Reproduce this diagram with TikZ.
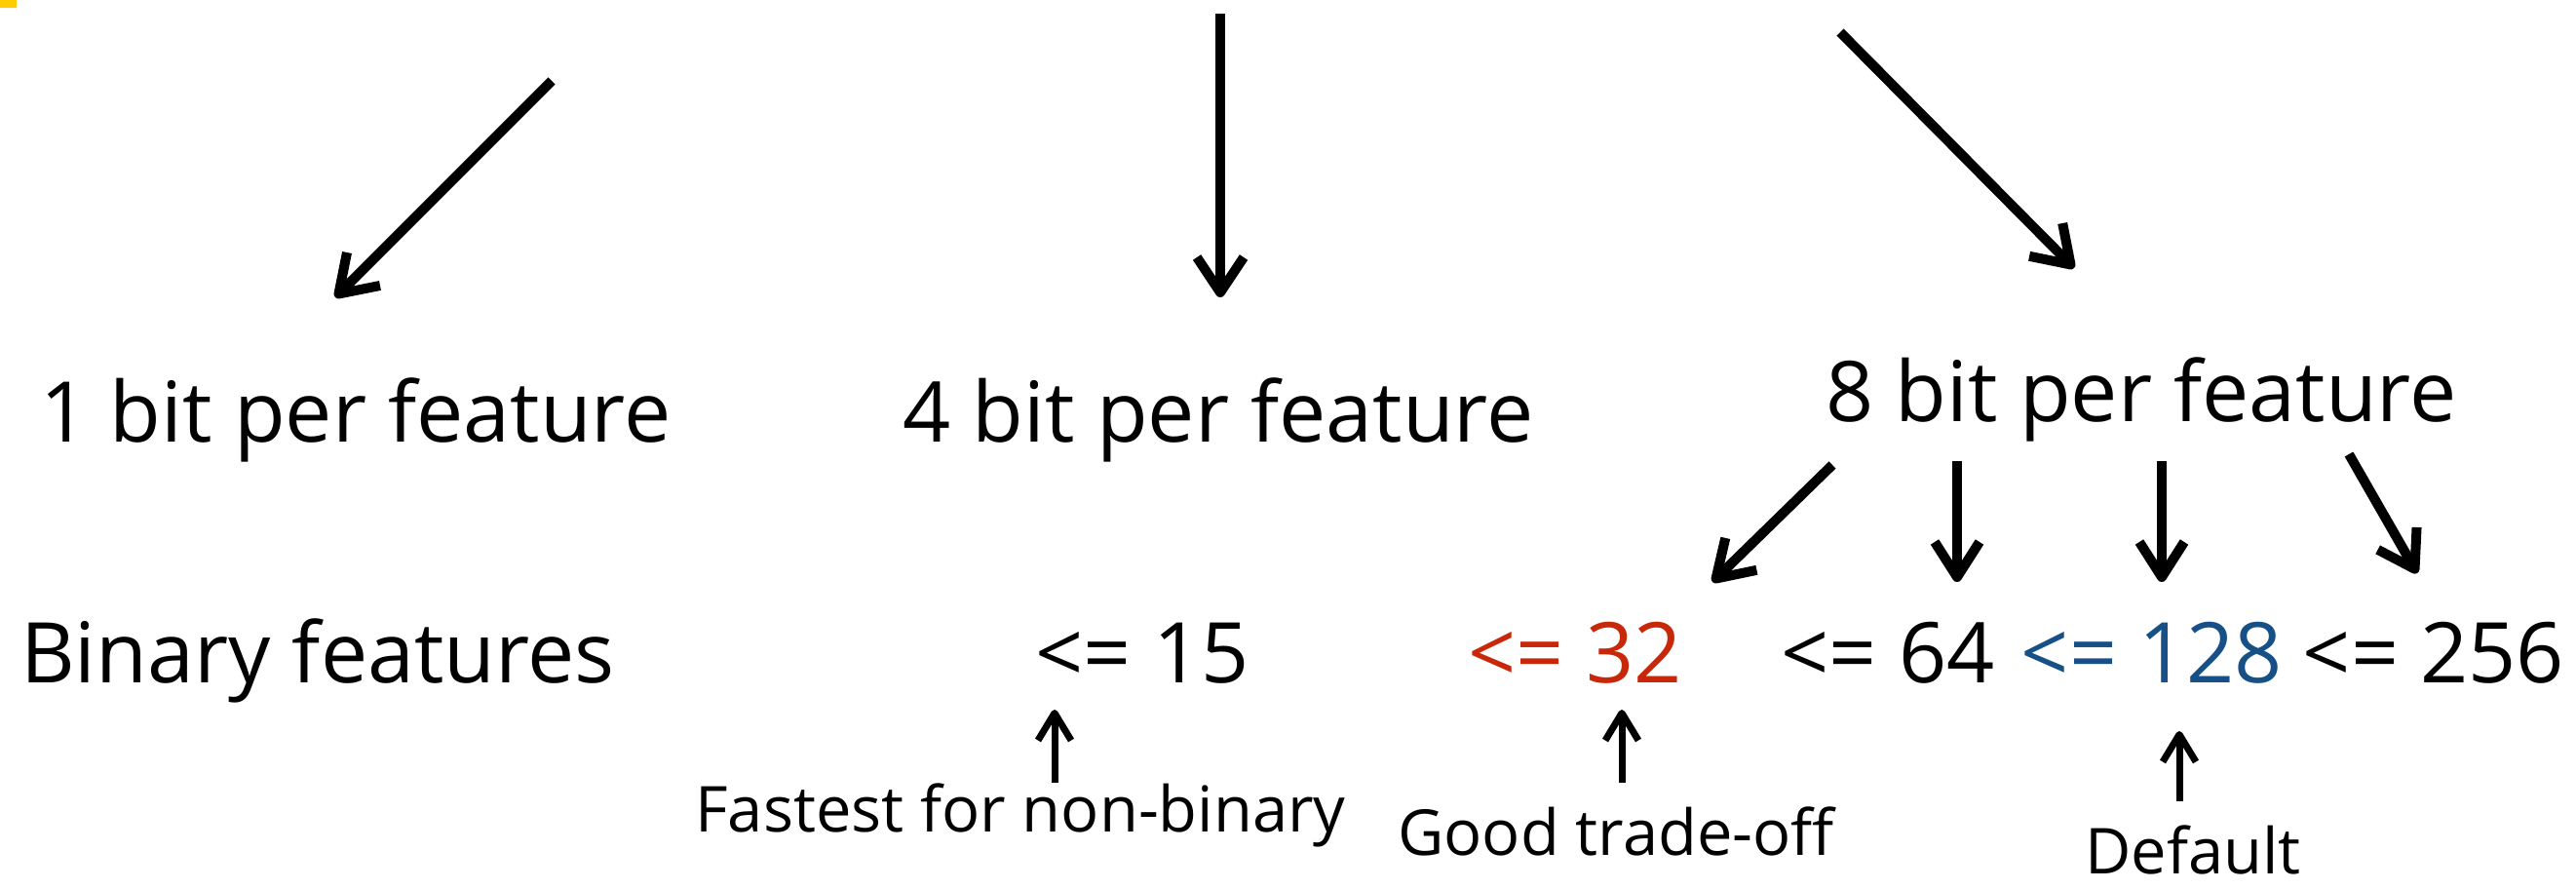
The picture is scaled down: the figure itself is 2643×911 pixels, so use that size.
\documentclass[tikz,border=0pt]{standalone}
\usepackage{fontspec}
\setmainfont{Open Sans}
\usetikzlibrary{arrows.meta}
\definecolor{redc}{RGB}{200,40,10}
\definecolor{bluec}{RGB}{22,80,135}
\definecolor{yel}{RGB}{255,204,0}
\tikzset{
  big/.style={font=\fontsize{86}{90}\selectfont, anchor=base, inner sep=0pt},
  small/.style={font=\fontsize{65}{70}\selectfont, anchor=base, inner sep=0pt},
  mainarrow/.style={line width=10pt, -{Straight Barb[line cap=butt,line join=round,length=36pt,width=48pt]}},
  subarrow/.style={line width=10pt, -{Straight Barb[line cap=butt,line join=round,length=36pt,width=46pt]}},
  notearrow/.style={line width=7pt, -{Straight Barb[line cap=butt,line join=round,length=28pt,width=34pt]}}
}
\begin{document}
\begin{tikzpicture}[x=1pt,y=-1pt]
\useasboundingbox (0,0) rectangle (2643,911);
\fill[yel] (0,0) rectangle (17,8);
% top arrows
\coordinate (s1) at (566,83);  \coordinate (t1) at (344,305);
\coordinate (s2) at (1252,14); \coordinate (t2) at (1252,305);
\coordinate (s3) at (1888,33); \coordinate (t3) at (2128,275);
\draw[mainarrow] (s1) -- (t1);
\draw[mainarrow] (s2) -- (t2);
\draw[mainarrow] (s3) -- (t3);
% level 1
\node[big] (b1) at (365,453) {1 bit per feature};
\node[big] (b4) at (1250,453) {4 bit per feature};
\node[big] (b8) at (2197,432) {8 bit per feature};
% level 2
\node[big] (bin) at (326,700) {Binary features};
\node[big] (v15) at (1172,700) {<= 15};
\node[big, text=redc] (v32) at (1616,700) {<= 32};
\node[big] (v64) at (1937,700) {<= 64};
\node[big, text=bluec] (v128) at (2208,700) {<= 128};
\node[big] (v256) at (2497,700) {<= 256};
% sub arrows
\coordinate (a1) at (1880,477); \coordinate (a2) at (1757,597);
\coordinate (c1) at (2008,473); \coordinate (c2) at (2008,597);
\coordinate (d1) at (2218,473); \coordinate (d2) at (2218,597);
\coordinate (e1) at (2410,466); \coordinate (e2) at (2480,588);
\draw[subarrow] (a1) -- (a2);
\draw[subarrow] (c1) -- (c2);
\draw[subarrow] (d1) -- (d2);
\draw[subarrow] (e1) -- (e2);
% notes
\node[small] (fast) at (1047,853) {Fastest for non-binary};
\node[small] (good) at (1658,877) {Good trade-off};
\node[small] (def) at (2250,896) {Default};
\coordinate (f1) at (1082,803); \coordinate (f2) at (1082,728);
\coordinate (g1) at (1664,803); \coordinate (g2) at (1664,728);
\coordinate (h1) at (2236,822); \coordinate (h2) at (2236,750);
\draw[notearrow] (f1) -- (f2);
\draw[notearrow] (g1) -- (g2);
\draw[notearrow] (h1) -- (h2);
\end{tikzpicture}
\end{document}
